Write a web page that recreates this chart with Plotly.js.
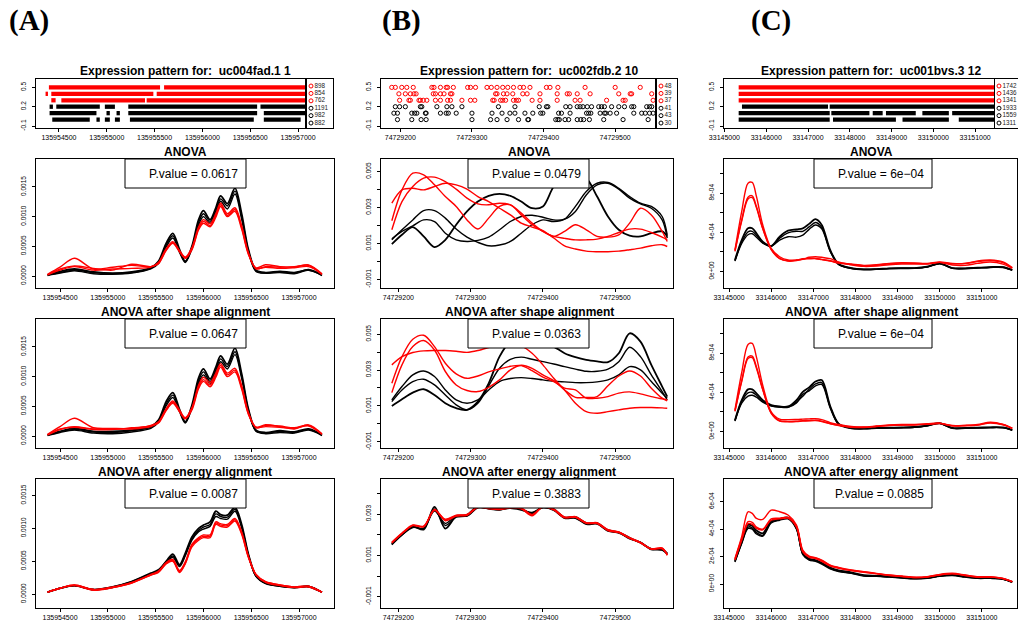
<!DOCTYPE html>
<html><head><meta charset="utf-8">
<script src="https://cdn.plot.ly/plotly-3.0.1.min.js"></script>
<style>html,body{margin:0;padding:0;background:#fff}#chart{width:1018px;height:625px}</style>
</head><body><div id="chart"></div><script>
// ================= DATA =================
// --- Row 1: expression patterns (levels, legend counts) ---
const rowLevels = [0.5, 0.4, 0.3, 0.2, 0.1, 0.0];
const rowColors = ['#ff0000','#ff0000','#ff0000','#000000','#000000','#000000'];
const legendA = ['898','854','762','1191','982','882'];
const legendB = ['48','39','37','41','43','30'];
const legendC = ['1742','1436','1341','1933','1559','1311'];
// A: dense runs of points [start, end] per level
const runsA = [
 [[135954395,135955557],[135955599,135957080]],
 [[135954360,135954385],[135954420,135955487],[135955522,135957080]],
 [[135954420,135954465],[135954525,135955400],[135955417,135957080]],
 [[135954402,135954437],[135954472,135954927],[135954980,135955085],[135955225,135956572],[135956607,135957080]],
 [[135954402,135954892],[135954997,135955032],[135955102,135955137],[135955225,135956572],[135956642,135957080]],
 [[135954430,135954822],[135954892,135954927],[135954980,135955032],[135955085,135955137],[135955242,135956537],[135956642,135957027]]
];
// B: individual points per level
const pointsB = [
 [74729188,74729193,74729202,74729209,74729218,74729244,74729247,74729256,74729264,74729266,74729274,74729294,74729298,74729305,74729321,74729327,74729335,74729343,74729350,74729358,74729367,74729372,74729381,74729404,74729409,74729420,74729458,74729500,74729535],
 [74729198,74729207,74729214,74729219,74729222,74729246,74729249,74729256,74729261,74729270,74729272,74729333,74729335,74729344,74729349,74729357,74729371,74729377,74729395,74729419,74729433,74729436,74729447,74729465,74729505,74729521,74729523,74729551],
 [74729199,74729212,74729214,74729226,74729228,74729232,74729237,74729249,74729256,74729266,74729270,74729286,74729298,74729304,74729329,74729331,74729340,74729343,74729347,74729358,74729362,74729365,74729384,74729395,74729419,74729444,74729451,74729488,74729511,74729514,74729553],
 [74729193,74729199,74729207,74729228,74729230,74729251,74729265,74729272,74729286,74729337,74729360,74729394,74729404,74729406,74729431,74729437,74729447,74729451,74729455,74729461,74729467,74729477,74729481,74729485,74729495,74729505,74729513,74729523,74729526,74729544,74729548,74729551],
 [74729191,74729196,74729216,74729220,74729223,74729235,74729236,74729256,74729264,74729267,74729278,74729300,74729328,74729342,74729353,74729360,74729374,74729385,74729396,74729399,74729421,74729425,74729437,74729460,74729463,74729466,74729479,74729485,74729487,74729493,74729502,74729526,74729537,74729542,74729548,74729553],
 [74729196,74729216,74729229,74729236,74729300,74729326,74729335,74729349,74729365,74729378,74729379,74729417,74729420,74729422,74729430,74729435,74729447,74729452,74729456,74729464,74729484,74729511,74729546]
];
// C: dense runs per level
const runsC = [
 [[33145341,33151490]],
 [[33145341,33151490]],
 [[33145341,33151490]],
 [[33145420,33147479],[33147519,33151490]],
 [[33145341,33147519],[33147558,33148469],[33148548,33148786],[33148865,33149578],[33149736,33150370],[33150449,33151490]],
 [[33145341,33147519],[33147598,33149103],[33149261,33150370],[33150607,33151490]]
];

// --- Curves. Panel A values in units of 1e-4 ---
const unitA = 1e-4, unitB = 1e-3, unitC = 1e-4;
const xA = [135954370,135954500,135954650,135954850,135955050,135955250,135955450,135955530,135955610,135955680,135955750,135955810,135955880,135955950,135956000,135956070,135956130,135956180,135956250,135956330,135956400,135956470,135956550,135956650,135956800,135956950,135957100,135957240];
const A1_black = [
 [0.2,0.8,1.2,0.7,0.5,0.7,1.4,2.5,5.5,7.2,4.5,2.5,5.0,9.5,11.0,9.5,11.5,13.5,12.2,14.8,10.5,4.5,1.0,0.6,0.8,0.6,1.0,0.2],
 [0.2,0.6,1.0,0.6,0.4,0.6,1.3,2.3,5.2,6.8,4.2,2.4,4.8,9.0,10.5,9.2,11.0,13.0,11.8,14.3,10.0,4.3,0.9,0.5,0.7,0.5,1.1,0.2],
 [0.1,0.5,0.9,0.4,0.3,0.5,1.2,2.1,4.9,6.4,4.0,2.3,4.6,8.6,10.0,8.9,10.6,12.6,11.3,13.8,9.6,4.1,0.8,0.5,0.6,0.4,1.0,0.1]];
const A1_red = [
 [0.3,1.5,3.0,1.2,1.5,1.8,1.6,2.3,4.6,5.8,4.3,3.2,4.8,8.3,9.5,8.8,10.5,12.3,10.5,11.5,8.5,4.0,1.2,1.6,1.5,1.6,1.8,0.3],
 [0.2,1.0,1.6,1.0,1.2,1.3,1.5,2.2,4.4,5.6,4.2,3.1,4.6,8.0,9.2,8.5,10.2,12.0,10.2,11.2,8.2,3.8,1.3,1.5,1.3,1.4,1.6,0.3],
 [0.2,1.2,1.7,1.3,1.0,2.0,1.6,2.1,4.3,5.5,4.1,3.0,4.4,7.8,8.9,8.3,9.9,11.7,10.0,10.9,7.9,3.7,1.4,1.9,1.6,1.5,1.9,0.4]];
const A2_black = [
 [0.2,0.8,1.3,0.8,0.8,1.0,1.6,2.7,5.8,7.3,4.5,2.4,5.2,9.8,11.3,9.6,11.6,13.5,12.1,14.8,10.5,4.6,1.0,0.6,0.9,0.7,1.2,0.2],
 [0.2,0.7,1.1,0.7,0.6,0.9,1.5,2.5,5.4,6.9,4.3,2.3,4.9,9.3,10.8,9.2,11.1,13.0,11.7,14.2,10.1,4.4,0.9,0.5,0.8,0.6,1.1,0.2],
 [0.1,0.6,1.0,0.5,0.4,0.7,1.3,2.3,5.1,6.5,4.1,2.2,4.7,8.9,10.3,8.9,10.7,12.5,11.3,13.7,9.7,4.2,0.8,0.4,0.6,0.5,1.0,0.1]];
const A2_red = [
 [0.3,1.6,3.0,1.4,1.3,1.3,1.8,2.4,4.6,5.9,4.4,3.1,4.8,8.6,9.9,9.0,10.6,12.2,10.6,11.4,8.5,4.0,1.4,1.8,1.7,1.4,1.8,0.3],
 [0.2,1.1,1.6,1.2,1.2,1.2,1.6,2.3,4.4,5.7,4.2,3.0,4.6,8.3,9.5,8.6,10.2,11.9,10.3,11.1,8.2,3.8,1.5,1.6,1.5,1.3,1.7,0.3],
 [0.2,1.2,1.5,1.1,1.1,1.4,1.7,2.2,4.3,5.5,4.1,2.9,4.4,8.0,9.2,8.3,9.9,11.6,10.0,10.8,7.9,3.7,1.5,1.9,1.6,1.2,1.9,0.4]];
const A3_black = [
 [0.3,0.9,1.3,0.7,1.1,1.9,3.2,3.7,5.0,6.1,4.5,6.2,8.7,10.0,10.5,11.0,12.6,12.1,12.0,13.2,10.6,6.1,2.8,1.7,1.3,1.0,1.2,0.3],
 [0.3,0.9,1.3,0.7,1.1,1.9,3.1,3.6,4.9,5.8,4.3,6.0,8.4,9.7,10.2,10.6,12.2,11.8,11.7,12.9,10.3,6.0,2.7,1.7,1.2,1.0,1.2,0.3],
 [0.3,0.9,1.3,0.7,1.0,1.8,3.0,3.5,4.8,5.6,4.2,5.8,8.2,9.5,9.9,10.3,11.8,11.5,11.4,12.6,10.1,5.9,2.7,1.6,1.2,1.0,1.1,0.3]];
const A3_red = [
 [0.3,0.9,1.4,0.7,1.1,1.8,3.0,3.5,4.8,5.3,3.6,4.9,7.6,8.6,9.0,9.0,11.0,10.7,10.6,11.5,9.5,5.8,3.0,1.9,1.4,1.1,1.2,0.3],
 [0.3,0.9,1.4,0.7,1.0,1.7,2.9,3.4,4.7,5.1,3.4,4.7,7.4,8.4,8.8,8.8,10.8,10.5,10.4,11.3,9.3,5.7,3.0,1.9,1.4,1.1,1.2,0.3],
 [0.3,0.9,1.3,0.6,1.0,1.7,2.9,3.3,4.6,5.0,3.3,4.6,7.2,8.2,8.6,8.6,10.6,10.3,10.2,11.1,9.1,5.6,2.9,1.8,1.3,1.0,1.1,0.3]];

// --- Panel B values in units of 1e-3 ---
const xB = [74729191,74729205,74729220,74729235,74729250,74729265,74729280,74729295,74729310,74729325,74729340,74729355,74729370,74729385,74729400,74729415,74729430,74729445,74729460,74729475,74729490,74729505,74729520,74729535,74729550,74729565,74729572];
const B1_black = [
 [0.96,1.48,1.91,1.39,0.80,1.20,2.04,2.78,3.33,3.65,3.76,3.65,3.33,2.96,3.06,4.17,4.72,4.82,4.63,3.61,2.50,1.76,1.43,1.39,1.57,1.67,1.39],
 [1.20,1.76,2.31,2.83,2.83,2.41,1.80,1.35,1.06,0.87,0.91,1.11,1.57,2.04,2.31,2.22,2.35,3.06,3.89,4.35,4.39,4.07,3.61,3.24,3.06,2.50,1.48],
 [1.26,1.67,1.98,2.31,2.22,1.57,1.20,1.11,1.17,1.35,1.76,2.22,2.50,2.57,2.46,2.31,2.35,2.78,3.70,4.26,4.35,4.02,3.52,3.20,2.96,2.31,1.30]];
const B1_red = [
 [2.26,3.98,4.91,4.82,4.26,3.61,3.06,2.31,1.80,2.41,3.06,3.15,2.59,2.04,1.67,1.39,1.67,2.04,1.76,1.39,1.35,1.48,2.13,2.96,2.59,1.67,1.11],
 [1.76,3.33,4.17,4.63,4.69,4.44,4.02,3.52,3.20,3.15,3.24,3.15,2.69,2.13,1.67,1.39,1.28,1.20,1.20,1.24,1.39,1.61,1.80,1.80,1.61,1.35,1.20],
 [3.24,3.98,4.07,3.98,4.17,4.35,4.26,4.02,3.61,3.33,2.96,2.59,2.13,1.91,1.72,1.30,0.87,0.69,0.57,0.54,0.54,0.57,0.65,0.74,0.87,0.93,0.83]];
const B2_black = [
 [1.00,1.37,1.74,1.93,1.61,1.15,0.87,0.78,1.24,2.26,3.75,4.59,4.78,4.72,4.59,4.31,3.94,3.72,3.57,3.49,3.44,3.94,5.05,4.59,3.29,2.08,1.52],
 [1.24,1.89,2.36,2.49,2.17,1.61,1.06,0.78,1.15,2.12,3.10,3.60,3.72,3.60,3.47,3.34,3.19,3.05,2.93,2.93,3.05,3.47,4.27,3.75,2.73,1.80,1.33],
 [1.33,2.08,2.73,2.95,2.64,1.89,1.33,1.15,1.33,1.89,2.36,2.53,2.58,2.53,2.45,2.38,2.34,2.30,2.30,2.34,2.45,2.73,3.19,3.01,2.36,1.71,1.43]];
const B2_red = [
 [2.26,3.75,4.72,4.94,4.31,3.38,2.79,2.54,2.67,2.90,3.06,3.21,3.25,2.97,2.60,2.36,1.99,1.89,1.43,1.43,1.52,1.71,1.78,1.67,1.52,1.39,1.33],
 [1.74,3.29,4.31,4.65,4.12,2.92,2.17,1.86,1.80,2.04,2.45,3.01,3.27,3.10,2.73,2.41,1.89,1.48,1.47,1.52,2.12,2.67,2.95,2.67,1.99,1.43,1.28],
 [3.29,3.75,3.98,4.07,4.09,4.09,4.05,3.99,4.09,4.26,4.44,4.50,4.35,3.94,3.29,2.54,1.89,1.15,0.68,0.59,0.68,0.78,0.87,0.91,0.91,0.89,0.87]];
const B3_black = [
 [1.55,2.02,2.40,2.25,3.35,2.30,2.88,2.96,3.38,3.28,3.22,3.34,3.24,3.02,3.36,3.24,2.84,2.86,2.56,2.55,2.22,2.12,1.85,1.62,1.32,1.28,1.08],
 [1.58,2.00,2.38,2.30,3.25,2.45,2.85,2.92,3.33,3.25,3.20,3.30,3.25,3.05,3.33,3.20,2.82,2.82,2.53,2.57,2.20,2.08,1.82,1.60,1.30,1.25,1.05],
 [1.52,1.98,2.35,2.32,3.15,2.55,2.92,2.90,3.30,3.27,3.24,3.28,3.20,3.08,3.30,3.18,2.80,2.80,2.50,2.52,2.18,2.10,1.80,1.64,1.28,1.30,1.10]];
const B3_red = [
 [1.62,2.06,2.45,2.40,3.22,2.72,2.92,2.98,3.36,3.30,3.24,3.32,3.28,2.95,3.38,3.24,2.86,2.86,2.58,2.56,2.22,2.12,1.84,1.60,1.30,1.34,1.02],
 [1.60,2.05,2.44,2.38,3.20,2.68,2.90,2.94,3.34,3.26,3.22,3.30,3.26,2.92,3.36,3.22,2.84,2.84,2.55,2.54,2.20,2.10,1.82,1.62,1.32,1.36,1.00],
 [1.64,2.08,2.47,2.42,3.18,2.75,2.95,2.97,3.32,3.28,3.25,3.34,3.30,2.98,3.34,3.20,2.82,2.88,2.57,2.58,2.24,2.14,1.86,1.63,1.31,1.32,1.04]];

// --- Panel C values in units of 1e-4 ---
const xC = [33145140,33145300,33145450,33145550,33145650,33145800,33146000,33146200,33146400,33146600,33146750,33146900,33147050,33147200,33147400,33147600,33147900,33148200,33148500,33148800,33149100,33149400,33149700,33150000,33150300,33150600,33150900,33151200,33151500,33151720];
const C1_black = [
 [1.16,3.21,4.41,4.41,3.90,3.04,2.60,3.56,4.17,4.31,4.41,4.86,5.34,4.75,2.19,0.75,0.34,0.21,0.24,0.31,0.34,0.34,0.48,0.82,0.34,0.31,0.38,0.44,0.44,0.14],
 [1.10,3.00,4.05,4.10,3.70,2.95,2.60,3.40,3.95,4.10,4.10,4.55,5.00,4.50,2.10,0.72,0.32,0.20,0.22,0.30,0.32,0.33,0.45,0.80,0.33,0.30,0.36,0.42,0.42,0.13],
 [1.05,2.85,3.75,3.85,3.50,2.90,2.60,3.20,3.55,3.50,3.70,4.30,4.75,4.35,2.05,0.70,0.30,0.19,0.21,0.28,0.30,0.31,0.43,0.78,0.31,0.28,0.34,0.40,0.40,0.12]];
const C1_red = [
 [2.19,6.12,9.03,9.10,7.66,4.75,2.36,1.50,1.16,1.16,1.23,1.44,1.50,1.44,1.30,0.96,0.68,0.51,0.55,0.68,0.75,0.75,0.75,0.92,0.65,0.62,0.82,0.96,0.75,0.31],
 [2.12,5.27,7.59,7.73,6.63,4.41,2.26,1.33,1.09,1.16,1.30,1.33,1.33,1.23,1.09,0.89,0.75,0.62,0.68,0.82,0.89,0.86,0.82,0.96,0.82,0.82,1.06,1.16,0.96,0.38],
 [2.05,5.15,7.40,7.55,6.50,4.35,2.22,1.30,1.05,1.10,1.25,1.28,1.30,1.20,1.05,0.85,0.70,0.58,0.62,0.78,0.85,0.82,0.78,0.92,0.78,0.80,1.00,1.10,0.90,0.35]];
const C2_black = [
 [1.15,3.20,4.30,4.30,3.90,3.20,2.70,2.55,2.55,3.20,4.05,4.50,5.10,5.25,2.60,0.80,0.35,0.30,0.35,0.38,0.40,0.45,0.60,0.85,0.35,0.35,0.38,0.42,0.40,0.14],
 [1.10,3.05,3.95,4.00,3.70,3.10,2.65,2.50,2.50,3.00,3.60,4.30,4.85,5.00,2.50,0.75,0.32,0.28,0.33,0.36,0.38,0.43,0.58,0.82,0.33,0.33,0.36,0.40,0.38,0.13],
 [1.05,2.90,3.60,3.70,3.50,3.00,2.60,2.48,2.45,2.90,3.80,4.15,4.65,4.80,2.40,0.72,0.30,0.26,0.31,0.34,0.36,0.41,0.56,0.80,0.31,0.31,0.34,0.38,0.36,0.12]];
const C2_red = [
 [2.19,6.00,8.90,9.00,7.60,4.70,2.00,1.25,1.20,1.22,1.25,1.28,1.30,1.20,0.90,0.70,0.50,0.45,0.55,0.65,0.70,0.72,0.78,0.85,0.60,0.62,0.70,0.95,0.72,0.30],
 [2.10,5.20,7.60,7.70,6.60,4.30,1.90,1.10,1.02,1.05,1.10,1.12,1.15,1.05,0.80,0.62,0.45,0.42,0.52,0.62,0.66,0.68,0.74,0.82,0.58,0.60,0.66,0.90,0.70,0.32],
 [2.05,5.10,7.45,7.55,6.45,4.25,1.85,1.05,0.98,1.00,1.05,1.08,1.10,1.00,0.78,0.60,0.43,0.40,0.50,0.60,0.64,0.66,0.72,0.80,0.56,0.58,0.64,0.86,0.68,0.30]];
const C3_black = [
 [1.70,3.10,4.30,4.25,3.90,3.70,4.60,4.75,4.85,4.10,2.25,1.85,1.75,1.55,1.20,1.00,0.85,0.65,0.60,0.55,0.48,0.42,0.45,0.60,0.68,0.55,0.45,0.45,0.38,0.15],
 [1.65,3.00,4.15,4.10,3.75,3.55,4.50,4.70,4.80,4.05,2.20,1.80,1.70,1.50,1.15,0.95,0.80,0.60,0.58,0.52,0.45,0.40,0.43,0.58,0.65,0.52,0.43,0.43,0.36,0.14],
 [1.60,2.95,4.05,4.00,3.65,3.50,4.45,4.65,4.75,4.00,2.15,1.75,1.65,1.45,1.10,0.90,0.78,0.58,0.56,0.50,0.43,0.38,0.42,0.56,0.62,0.50,0.41,0.41,0.35,0.13]];
const C3_red = [
 [1.87,3.45,5.27,5.15,4.78,4.71,5.39,5.27,5.03,4.30,2.48,2.04,1.92,1.75,1.38,1.21,1.02,0.90,0.78,0.66,0.58,0.49,0.53,0.70,0.78,0.66,0.53,0.53,0.41,0.17],
 [1.80,3.30,4.55,4.50,4.15,4.00,4.75,4.80,4.85,4.20,2.40,2.00,1.90,1.70,1.35,1.18,1.00,0.88,0.76,0.64,0.56,0.48,0.52,0.68,0.76,0.64,0.52,0.52,0.40,0.17],
 [1.75,3.20,4.40,4.35,4.05,3.95,4.65,4.75,4.80,4.15,2.35,1.95,1.85,1.65,1.30,1.15,0.98,0.86,0.74,0.62,0.55,0.47,0.51,0.66,0.74,0.62,0.50,0.50,0.39,0.16]];

// --- Text ---
const colLetters = ['(A)','(B)','(C)'];
const exprTitles = ['Expression pattern for:\u00a0 uc004fad.1 1','Expression pattern for:\u00a0 uc002fdb.2 10','Expression pattern for:\u00a0 uc001bvs.3 12'];
const rowTitles = [
 ['ANOVA','ANOVA','ANOVA'],
 ['ANOVA after shape alignment','ANOVA after shape alignment','ANOVA\u00a0 after shape alignment'],
 ['ANOVA after energy alignment','ANOVA after energy alignment','ANOVA after energy alignment']];
const pValues = [['0.0617','0.0479','6e\u221204'],['0.0647','0.0363','6e\u221204'],['0.0087','0.3883','0.0885']];
const xTicksA = [135954500,135955000,135955500,135956000,135956500,135957000];
const xTicksB = [74729200,74729300,74729400,74729500];
const xTicksC = [33145000,33146000,33147000,33148000,33149000,33150000,33151000];
const yTicksScatter = [-0.1,0.2,0.5];
const yTicksScatterText = ['-0.1','0.2','0.5'];
const yTicksA = [0,0.0005,0.001,0.0015], yTicksAText = ['0.0000','0.0005','0.0010','0.0015'];
const yTicksB = [-0.001,0,0.001,0.002,0.003,0.004,0.005], yTicksBText = ['-0.001','','0.001','','0.003','','0.005'];
const yTicksC = [0,2e-4,4e-4,6e-4,8e-4,1e-3], yTicksCText = ['0e+00','','4e-04','','8e-04',''];
const yTicksC4 = [0,2e-4,4e-4,6e-4], yTicksC4Text = ['0e+00','2e-04','4e-04','6e-04'];

// ================= LAYOUT =================
const W = 1018, H = 625;
const FONT = 'Liberation Sans, Arial, Helvetica, sans-serif';
const dx = (a,b)=>[a/W, b/W];
const dy = (a,b)=>[1-b/H, 1-a/H];
const key = (t,n)=> t+'axis'+(n===1?'':n);
const ref = (t,n)=> t+(n===1?'':n);
const rowY = [[79,128],[159,288],[319,448],[479,608]];
const scatX = [[36,306],[381,656],[724,994]];
const legX = [[306,333],[656,677],[994,1018]];
const lineX = [[36,334],[381,673],[724,1017]];
const colCenter = [185,529,871];
const pBoxX = [[125,246],[468,589],[814,932]];

const layout = {width:W,height:H,margin:{l:0,r:0,t:0,b:0},paper_bgcolor:'#fff',plot_bgcolor:'rgba(0,0,0,0)',
  showlegend:false,hovermode:false,annotations:[],shapes:[],font:{family:FONT,color:'#000'}};
const traces = [];

function baseAx(extra){
  return Object.assign({showline:true,mirror:true,linecolor:'#000',linewidth:1,ticks:'outside',ticklen:3,tickwidth:1,
    tickcolor:'#000',showgrid:false,zeroline:false,fixedrange:true,automargin:false},extra);
}
function xAx(n,dom,range,vals,anchorN){
  layout[key('x',n)] = baseAx({domain:dom,range:range,anchor:ref('y',anchorN),tickmode:'array',tickvals:vals,
    ticktext:vals.map(String),tickfont:{family:FONT,size:7,color:'#000'},tickangle:0});
}
function yAx(n,dom,range,vals,text,anchorN){
  layout[key('y',n)] = baseAx({domain:dom,range:range,anchor:ref('x',anchorN),tickmode:'array',tickvals:vals,
    ticktext:text,tickfont:{family:FONT,size:6.5,color:'#000'},tickangle:-90,ticklabelstandoff:3});
}

// Row 1 scatter panels
const scatXRange = [[135954260,135957083],[74729173,74729557],[33144990,33151450]];
const scatXTicks = [xTicksA,xTicksB,xTicksC];
const legendLabels = [legendA,legendB,legendC];
for(let c=0;c<3;c++){
  const n=c+1;
  xAx(n,dx(...scatX[c]),scatXRange[c],scatXTicks[c],n);
  yAx(n,dy(...rowY[0]),[-0.13,0.63],yTicksScatter,yTicksScatterText,n);
  // legend axes
  const m=c+4, lw=legX[c][1]-legX[c][0];
  layout[key('x',m)] = {domain:dx(...legX[c]),range:[0,lw],anchor:ref('y',m),showline:true,mirror:true,linecolor:'#000',linewidth:1,
    showticklabels:false,ticks:'',showgrid:false,zeroline:false,fixedrange:true};
  layout[key('y',m)] = {domain:dy(...rowY[0]),range:[-0.67,5.95],anchor:ref('x',m),showline:c<2,mirror:c<2,linecolor:'#000',linewidth:1,
    showticklabels:false,ticks:'',showgrid:false,zeroline:false,fixedrange:true};
  const labs = legendLabels[c];
  traces.push({type:'scatter',mode:'markers+text',xaxis:ref('x',m),yaxis:ref('y',m),cliponaxis:false,
    x:labs.map(()=>5),y:labs.map((_,i)=>labs.length-1-i),text:labs,textposition:'middle right',
    textfont:{family:FONT,size:6.3,color:'#222'},
    marker:{symbol:'circle-open',size:4,color:rowColors,line:{width:1}}});
  layout.annotations.push({xref:'paper',yref:'paper',x:colCenter[c]/W,y:1-70.7/H,text:'<b>'+exprTitles[c]+'</b>',
    showarrow:false,xanchor:'center',yanchor:'middle',font:{family:FONT,size:12,color:'#000'}});
  layout.annotations.push({xref:'paper',yref:'paper',x:[29,401,771][c]/W,y:1-20/H,text:'<b>'+colLetters[c]+'</b>',
    showarrow:false,xanchor:'center',yanchor:'middle',font:{family:'Liberation Serif, Times New Roman, serif',size:29,color:'#000'}});
}
// runs for A and C
function runTrace(runs,level,color,n){
  const xs=[],ys=[];
  runs.forEach(r=>{xs.push(r[0],r[1],null);ys.push(level,level,null);});
  return {type:'scatter',mode:'lines',x:xs,y:ys,xaxis:ref('x',n),yaxis:ref('y',n),line:{color:color,width:4.3}};
}
runsA.forEach((r,i)=>traces.push(runTrace(r,rowLevels[i],rowColors[i],1)));
runsC.forEach((r,i)=>traces.push(runTrace(r,rowLevels[i],rowColors[i],3)));
pointsB.forEach((p,i)=>traces.push({type:'scatter',mode:'markers',x:p,y:p.map(()=>rowLevels[i]),xaxis:'x2',yaxis:'y2',
  marker:{symbol:'circle-open',size:4.2,color:rowColors[i],line:{width:1}}}));

// Rows 2-4 line panels
const lineXRange = [[135954249,135957366],[74729176,74729580],[33144880,33151833]];
const yRanges = [
  [[-0.0002,0.00197],[-0.00148,0.0057],[-1.7e-4,1.15e-3]],
  [[-0.0002,0.00197],[-0.00135,0.00585],[-1.7e-4,1.15e-3]],
  [[-0.00021,0.00175],[-0.00155,0.0047],[-1.75e-4,7.66e-4]]];
const yTickSets = [
  [[yTicksA,yTicksAText],[yTicksB,yTicksBText],[yTicksC,yTicksCText]],
  [[yTicksA,yTicksAText],[yTicksB,yTicksBText],[yTicksC,yTicksCText]],
  [[yTicksA,yTicksAText],[yTicksB,yTicksBText],[yTicksC4,yTicksC4Text]]];
const curveSets = [
  [[A1_black,A1_red],[B1_black,B1_red],[C1_black,C1_red]],
  [[A2_black,A2_red],[B2_black,B2_red],[C2_black,C2_red]],
  [[A3_black,A3_red],[B3_black,B3_red],[C3_black,C3_red]]];
const xs = [xA,xB,xC], units = [unitA,unitB,unitC];
for(let r=0;r<3;r++){
  for(let c=0;c<3;c++){
    const n = 7 + r*3 + c;
    const [y0,y1] = rowY[r+1];
    xAx(n,dx(...lineX[c]),lineXRange[c],scatXTicks[c],n);
    yAx(n,dy(y0,y1),yRanges[r][c],yTickSets[r][c][0],yTickSets[r][c][1],n);
    const [blk,red] = curveSets[r][c];
    blk.forEach((v,i)=>traces.push({type:'scatter',mode:'lines',x:xs[c],y:v.map(q=>q*units[c]),xaxis:ref('x',n),yaxis:ref('y',n),
      line:{color:'#000',width:i===0?1.8:1.4,shape:'spline',smoothing:0.9}}));
    red.forEach((v,i)=>traces.push({type:'scatter',mode:'lines',x:xs[c],y:v.map(q=>q*units[c]),xaxis:ref('x',n),yaxis:ref('y',n),
      line:{color:'#ff0000',width:1.4,shape:'spline',smoothing:0.9}}));
    // title
    layout.annotations.push({xref:'paper',yref:'paper',x:colCenter[c]/W,y:1-(y0-6.7)/H,text:'<b>'+rowTitles[r][c]+'</b>',
      showarrow:false,xanchor:'center',yanchor:'middle',font:{family:FONT,size:12,color:'#000'}});
    // p-value box
    const bx = pBoxX[c];
    layout.shapes.push({type:'rect',xref:'paper',yref:'paper',x0:bx[0]/W,x1:bx[1]/W,y0:1-(y0+29)/H,y1:1-y0/H,
      line:{color:'#000',width:1},fillcolor:'#fff',layer:'above'});
    layout.annotations.push({xref:'paper',yref:'paper',x:(bx[1]-6)/W,y:1-(y0+14.5)/H,text:'P.value = '+pValues[r][c],
      showarrow:false,xanchor:'right',yanchor:'middle',font:{family:FONT,size:12,color:'#000'}});
  }
}

Plotly.newPlot('chart',traces,layout,{staticPlot:true,displayModeBar:false});
</script></body></html>
